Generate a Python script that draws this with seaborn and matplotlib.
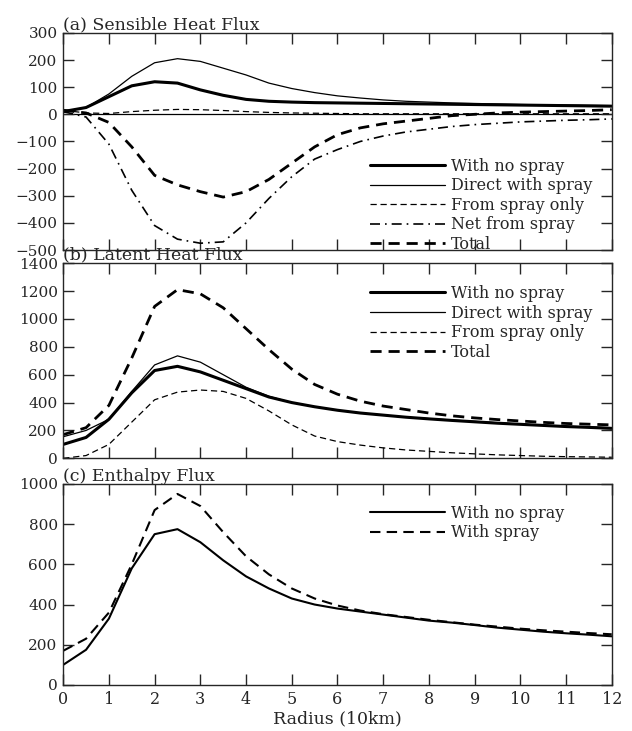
import matplotlib
matplotlib.use("Agg")
import matplotlib.pyplot as plt
import seaborn as sns
import pandas as pd

# radius in units of 10 km, every 0.5
radius = [0, 0.5, 1, 1.5, 2, 2.5, 3, 3.5, 4, 4.5, 5, 5.5, 6, 6.5, 7, 7.5, 8,
          8.5, 9, 9.5, 10, 10.5, 11, 11.5, 12]

# (a) sensible heat flux
sh_no_spray = [10, 25, 65, 105, 120, 115, 90, 70, 55, 48, 45, 43, 42, 41, 40,
               39, 38, 37, 36, 35, 34, 33, 32, 31, 30]
sh_direct = [10, 25, 75, 140, 190, 205, 195, 170, 145, 115, 95, 80, 68, 60, 53,
             48, 45, 42, 40, 38, 36, 35, 34, 33, 32]
sh_spray_only = [15, 5, 3, 10, 15, 18, 17, 14, 10, 7, 5, 4, 3, 2, 2,
                 2, 2, 2, 2, 2, 2, 2, 2, 2, 2]
sh_net = [10, -10, -110, -280, -410, -460, -475, -470, -400, -310, -230, -165,
          -130, -100, -80, -65, -55, -45, -38, -33, -28, -25, -22, -20, -17]
sh_total = [15, 5, -30, -120, -225, -260, -285, -305, -285, -240, -180, -120,
            -75, -50, -35, -25, -15, -5, 0, 5, 8, 10, 12, 14, 17]

# (b) latent heat flux
lh_no_spray = [100, 150, 280, 470, 630, 660, 620, 560, 500, 440, 400, 370, 345,
               325, 310, 295, 283, 272, 262, 252, 244, 236, 228, 222, 215]
lh_direct = [155, 200, 280, 480, 670, 735, 690, 600, 510, 445, 400, 370, 345,
             325, 310, 295, 285, 275, 265, 255, 245, 238, 230, 225, 220]
lh_spray_only = [0, 20, 100, 260, 420, 475, 490, 480, 430, 340, 240, 160, 120,
                 95, 75, 60, 50, 40, 32, 25, 20, 15, 12, 10, 8]
lh_total = [170, 220, 380, 720, 1090, 1210, 1180, 1080, 930, 780, 640, 530, 460,
            410, 375, 350, 325, 305, 290, 278, 268, 258, 250, 245, 240]

# (c) enthalpy flux
en_no_spray = [100, 175, 330, 580, 750, 775, 710, 620, 540, 480, 430, 400, 380,
               365, 350, 335, 320, 310, 298, 285, 275, 265, 257, 250, 242]
en_spray = [170, 230, 360, 600, 870, 950, 890, 760, 640, 550, 480, 430, 395,
            370, 352, 338, 324, 312, 300, 290, 280, 272, 265, 258, 252]

sns.set_style("ticks")
plt.rcParams['font.family'] = ['DejaVu Serif']
plt.rcParams['font.size'] = 11

fig = plt.figure(figsize=(6.32, 7.31), dpi=100)
ax_a = fig.add_axes([0.10, 0.658, 0.868, 0.297])
ax_b = fig.add_axes([0.10, 0.373, 0.868, 0.267])
ax_c = fig.add_axes([0.10, 0.063, 0.868, 0.275])

thick = dict(color="black", lw=2.2)
thin = dict(color="black", lw=0.9)


def draw(ax, series):
    for label, y, style, dashes in series:
        df = pd.DataFrame({"r": radius, "v": y})
        sns.lineplot(data=df, x="r", y="v", ax=ax, label=label, **style)
        if dashes is not None:
            ax.lines[-1].set_dashes(dashes)


draw(ax_a, [
    ("With no spray", sh_no_spray, thick, None),
    ("Direct with spray", sh_direct, thin, None),
    ("From spray only", sh_spray_only, thin, (5, 3)),
    ("Net from spray", sh_net, dict(color="black", lw=1.2), (6, 3, 1, 3)),
    ("Total", sh_total, dict(color="black", lw=2.0), (4, 2.5)),
])
ax_a.axhline(0, color="black", lw=0.9, zorder=0)

draw(ax_b, [
    ("With no spray", lh_no_spray, thick, None),
    ("Direct with spray", lh_direct, thin, None),
    ("From spray only", lh_spray_only, thin, (5, 3)),
    ("Total", lh_total, dict(color="black", lw=2.0), (4, 2.5)),
])

draw(ax_c, [
    ("With no spray", en_no_spray, dict(color="black", lw=1.5), None),
    ("With spray", en_spray, dict(color="black", lw=1.5), (5, 3)),
])

panels = [
    (ax_a, "(a) Sensible Heat Flux", (-500, 300), range(-500, 301, 100)),
    (ax_b, "(b) Latent Heat Flux", (0, 1400), range(0, 1401, 200)),
    (ax_c, "(c) Enthalpy Flux", (0, 1000), range(0, 1001, 200)),
]
for ax, title, ylim, yticks in panels:
    ax.set_xlim(0, 12)
    ax.set_ylim(*ylim)
    ax.set_xticks(range(0, 13))
    ax.set_yticks(list(yticks))
    ax.tick_params(direction="in", top=True, right=True, length=8, width=1,
                   labelsize=11, pad=4)
    ax.set_title(title, loc="left", fontsize=12.5, pad=2)
    ax.set_xlabel("")
    ax.set_ylabel("")
    for s in ax.spines.values():
        s.set_linewidth(1.0)
        s.set_visible(True)

ax_a.set_xticklabels([])
ax_b.set_xticklabels([])
ax_c.tick_params(axis="x", labelsize=11.5)
ax_c.set_xlabel("Radius (10km)", fontsize=12.5, labelpad=2)

leg_kw = dict(loc="upper left", frameon=False, handlelength=4.7,
              labelspacing=0.16, handletextpad=0.35, fontsize=11.5,
              borderaxespad=0, borderpad=0)
ax_a.legend(bbox_to_anchor=(0.559, 0.425), **leg_kw)
ax_b.legend(bbox_to_anchor=(0.559, 0.888), **leg_kw)
ax_c.legend(bbox_to_anchor=(0.559, 0.896), **leg_kw)

fig.savefig("out.png", dpi=100)
